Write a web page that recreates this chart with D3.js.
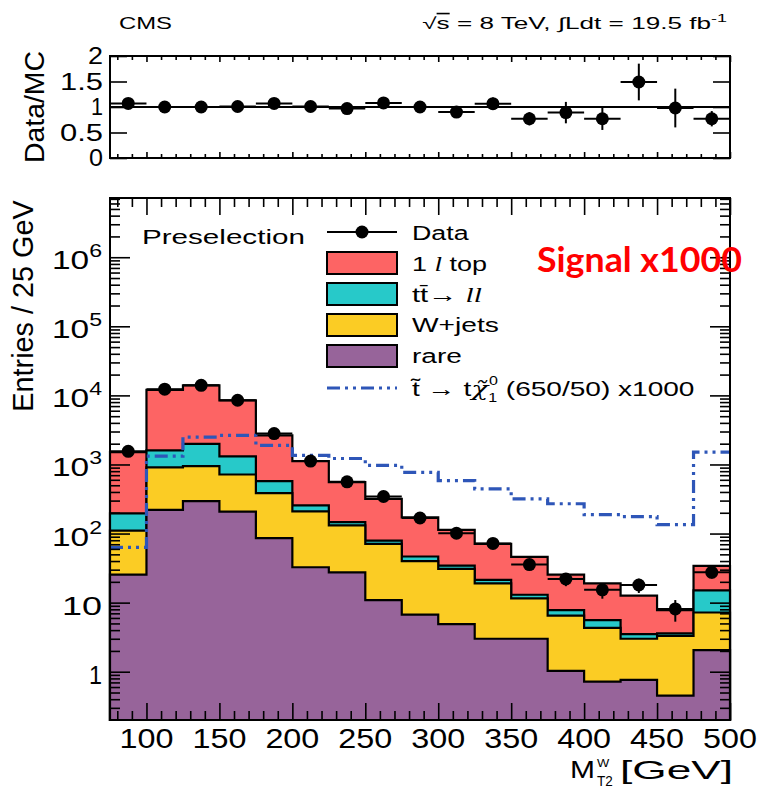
<!DOCTYPE html>
<html lang="en">
<head>
<meta charset="UTF-8">
<title>MT2W preselection</title>
<script src="https://d3js.org/d3.v7.min.js"></script>
<style>
  body { margin: 0; background: #fff; }
  svg { display: block; }
  text { font-family: "Liberation Sans", Arial, sans-serif; fill: #000; }
  .frame { fill: none; stroke: #000; stroke-width: 2px; }
  .axis path { display: none; }
  .axis line { stroke: #000; stroke-width: 1.6px; }
  .hist { stroke: #000; stroke-width: 2.2px; }
</style>
</head>
<body>
<script>
// bin edges of M_T2^W (25 GeV bins)
const edges = [75, 100, 125, 150, 175, 200, 225, 250, 275, 300, 325, 350, 375, 400, 425, 450, 475, 500];

// background components per bin
const rare   = [25.5, 220, 294, 208, 86, 32.5, 27.5, 10.9, 6.7, 4.9, 3.0, 3.0, 1.03, 0.72, 0.76, 0.45, 2.06];
const wjets  = [84.5, 690, 651, 508, 298, 177.5, 103.5, 59.9, 33.3, 25.9, 16, 8.5, 5.47, 3.58, 2.24, 2.85, 5.14];
const ttll   = [86, 690, 1045, 590, 189, 45, 15, 8.2, 6.5, 3.6, 2.3, 1.5, 1.3, 1.3, 0.5, 0.3, 7.8];
const top1l  = [1314, 10400, 11970, 7164, 2057, 862, 409, 239, 125.5, 78.6, 49.7, 33, 17.7, 13.4, 9.1, 4.2, 19];

// data and its errors
const dataVals = [1550, 12300, 14000, 8500, 2800, 1120, 560, 344, 168, 101, 72, 35.6, 22, 15.3, 18, 8.1, 27.5];
const dataErr  = [40, 110, 118, 92, 53, 33, 24, 19, 13, 10, 8.5, 6, 4.7, 3.9, 4.2, 2.8, 5.2];

// signal x1000
const signal = [63, 1320, 2490, 2630, 1885, 1350, 1220, 968, 770, 585, 443, 317, 270, 188, 176, 135, 1510];

// data / MC ratio
const ratio    = [1.07, 1.0, 1.0, 1.01, 1.07, 1.01, 0.97, 1.08, 1.0, 0.9, 1.065, 0.77, 0.89, 0.77, 1.49, 0.98, 0.77];
const ratioErr = [0.03, 0.01, 0.01, 0.01, 0.02, 0.03, 0.04, 0.06, 0.08, 0.1, 0.12, 0.13, 0.21, 0.22, 0.36, 0.38, 0.15];

// tick labels
const xTicks = [100, 150, 200, 250, 300, 350, 400, 450, 500];
const yTicks = [1, 10, 1e2, 1e3, 1e4, 1e5, 1e6];
const yTickExp = [null, null, "2", "3", "4", "5", "6"];
const rTicks = [0, 0.5, 1, 1.5, 2];
const rTickLabels = ["0", "0.5", "1", "1.5", "2"];

const colors = { top1l: "#fd6464", ttll: "#27c9c9", wjets: "#fbcc24", rare: "#97649a", signal: "#2e56b8" };

const W = 761, H = 789;
const main = { left: 110, right: 730, top: 198, bottom: 720 };
const rpad = { left: 110, right: 730, top: 56, bottom: 158 };

const svg = d3.select("body").append("svg").attr("width", W).attr("height", H);

const x = d3.scaleLinear().domain([75, 500]).range([main.left, main.right]);
const y = d3.scaleLog().domain([0.2, 7.2e6]).range([main.bottom, main.top]);
const yr = d3.scaleLinear().domain([0, 2]).range([rpad.bottom, rpad.top]);

// text helper: scales horizontally to a target width
function fitText(parent, tx, ty, width, size, anchor, build, extra) {
  const g = parent.append("g");
  const t = g.append("text").attr("font-size", size).attr("text-anchor", anchor);
  build(t);
  const w = t.node().getBBox().width;
  const sx = width ? width / w : 1;
  g.attr("transform", `translate(${tx},${ty})${extra || ""} scale(${sx},1)`);
  return t;
}

// ---------- stacked histograms ----------
const n = top1l.length;
const cumRare = rare.slice();
const cumW = rare.map((v, i) => v + wjets[i]);
const cumTT = cumW.map((v, i) => v + ttll[i]);
const cumTot = cumTT.map((v, i) => v + top1l[i]);

const stepArea = d3.area()
    .curve(d3.curveStepAfter)
    .x(d => x(d.e))
    .y0(main.bottom)
    .y1(d => y(d.v));

function stepPts(vals) {
  return edges.map((e, i) => ({ e: e, v: vals[Math.min(i, n - 1)] }));
}

const layers = [
  { vals: cumTot, color: colors.top1l },
  { vals: cumTT, color: colors.ttll },
  { vals: cumW, color: colors.wjets },
  { vals: cumRare, color: colors.rare }
];

svg.append("g").selectAll("path")
    .data(layers)
  .enter().append("path")
    .attr("class", "hist")
    .attr("fill", d => d.color)
    .attr("d", d => stepArea(stepPts(d.vals)));

// signal line
const stepLine = d3.line()
    .curve(d3.curveStepAfter)
    .x(d => x(d.e))
    .y(d => y(d.v));

const sigDash = "13,5,3,5,3,5";
svg.append("path")
    .attr("d", stepLine(stepPts(signal)))
    .attr("fill", "none")
    .attr("stroke", colors.signal)
    .attr("stroke-width", 3.2)
    .attr("stroke-dasharray", sigDash);

// data points
const centers = edges.slice(0, n).map(e => e + 12.5);
const dg = svg.append("g");
centers.forEach((c, i) => {
  dg.append("line").attr("x1", x(c - 12.5)).attr("x2", x(c + 12.5))
    .attr("y1", y(dataVals[i])).attr("y2", y(dataVals[i]))
    .attr("stroke", "#000").attr("stroke-width", 2);
  dg.append("line").attr("x1", x(c)).attr("x2", x(c))
    .attr("y1", y(dataVals[i] - dataErr[i])).attr("y2", y(dataVals[i] + dataErr[i]))
    .attr("stroke", "#000").attr("stroke-width", 2);
  dg.append("circle").attr("cx", x(c)).attr("cy", y(dataVals[i])).attr("r", 6.5).attr("fill", "#000");
});

// ---------- main axes ----------
const minorX = d3.range(80, 501, 10).filter(v => v % 50 !== 0);
const minorY = [];
for (let d = -1; d <= 6; d++) for (let m = 2; m <= 9; m++) {
  const v = m * Math.pow(10, d);
  if (v > 0.2 && v < 7.2e6) minorY.push(v);
}

svg.append("g").attr("class", "axis").attr("transform", `translate(0,${main.bottom})`)
    .call(d3.axisBottom(x).tickValues(xTicks).tickSize(-17).tickFormat(""));
svg.append("g").attr("class", "axis").attr("transform", `translate(0,${main.bottom})`)
    .call(d3.axisBottom(x).tickValues(minorX).tickSize(-9).tickFormat(""));
svg.append("g").attr("class", "axis").attr("transform", `translate(0,${main.top})`)
    .call(d3.axisTop(x).tickValues(xTicks).tickSize(-17).tickFormat(""));
svg.append("g").attr("class", "axis").attr("transform", `translate(0,${main.top})`)
    .call(d3.axisTop(x).tickValues(minorX).tickSize(-9).tickFormat(""));
svg.append("g").attr("class", "axis").attr("transform", `translate(${main.left},0)`)
    .call(d3.axisLeft(y).tickValues(yTicks).tickSize(-20).tickFormat(""));
svg.append("g").attr("class", "axis").attr("transform", `translate(${main.left},0)`)
    .call(d3.axisLeft(y).tickValues(minorY).tickSize(-10).tickFormat(""));
svg.append("g").attr("class", "axis").attr("transform", `translate(${main.right},0)`)
    .call(d3.axisRight(y).tickValues(yTicks).tickSize(-20).tickFormat(""));
svg.append("g").attr("class", "axis").attr("transform", `translate(${main.right},0)`)
    .call(d3.axisRight(y).tickValues(minorY).tickSize(-10).tickFormat(""));

svg.append("rect").attr("class", "frame")
    .attr("x", main.left).attr("y", main.top)
    .attr("width", main.right - main.left).attr("height", main.bottom - main.top);

// x tick labels
xTicks.forEach(v => {
  fitText(svg, x(v), 748, 54, 27, "middle", t => t.text(v));
});

// y tick labels
yTicks.forEach((v, i) => {
  const wd = yTickExp[i] === null ? (v === 1 ? 13 : 40) : 50;
  fitText(svg, 102, y(v) + 12, wd, 26, "end", t => {
    if (yTickExp[i] === null) {
      t.text(v);
    } else {
      t.append("tspan").text("10");
      t.append("tspan").attr("dy", -12).attr("font-size", 18).text(yTickExp[i]);
    }
  });
});

// axis titles
fitText(svg, 570, 778, 25, 23, "start", t => t.text("M"));
fitText(svg, 597, 767, 13, 11, "start", t => t.text("W"));
fitText(svg, 597, 786, 16, 14, "start", t => t.text("T2"));
fitText(svg, 733, 779, 113, 25, "end", t => t.text("[GeV]"));
fitText(svg, 33, 306, 212, 29, "middle", t => t.text("Entries / 25 GeV"), " rotate(-90)");

// ---------- ratio panel ----------
svg.append("g").attr("class", "axis").attr("transform", `translate(0,${rpad.bottom})`)
    .call(d3.axisBottom(x).tickValues(xTicks).tickSize(-6).tickFormat(""));
svg.append("g").attr("class", "axis").attr("transform", `translate(0,${rpad.bottom})`)
    .call(d3.axisBottom(x).tickValues(minorX).tickSize(-4).tickFormat(""));
svg.append("g").attr("class", "axis").attr("transform", `translate(0,${rpad.top})`)
    .call(d3.axisTop(x).tickValues(xTicks).tickSize(-6).tickFormat(""));
svg.append("g").attr("class", "axis").attr("transform", `translate(0,${rpad.top})`)
    .call(d3.axisTop(x).tickValues(minorX).tickSize(-4).tickFormat(""));
svg.append("g").attr("class", "axis").attr("transform", `translate(${rpad.left},0)`)
    .call(d3.axisLeft(yr).tickValues(rTicks).tickSize(-17).tickFormat(""));
svg.append("g").attr("class", "axis").attr("transform", `translate(${rpad.right},0)`)
    .call(d3.axisRight(yr).tickValues(rTicks).tickSize(-17).tickFormat(""));

svg.append("line")
    .attr("x1", rpad.left).attr("x2", rpad.right)
    .attr("y1", yr(1)).attr("y2", yr(1))
    .attr("stroke", "#000").attr("stroke-width", 2);

const rg = svg.append("g");
centers.forEach((c, i) => {
  rg.append("line").attr("x1", x(c - 12.5)).attr("x2", x(c + 12.5))
    .attr("y1", yr(ratio[i])).attr("y2", yr(ratio[i]))
    .attr("stroke", "#000").attr("stroke-width", 2);
  rg.append("line").attr("x1", x(c)).attr("x2", x(c))
    .attr("y1", yr(ratio[i] - ratioErr[i])).attr("y2", yr(ratio[i] + ratioErr[i]))
    .attr("stroke", "#000").attr("stroke-width", 2);
  rg.append("circle").attr("cx", x(c)).attr("cy", yr(ratio[i])).attr("r", 6.5).attr("fill", "#000");
});

svg.append("rect").attr("class", "frame")
    .attr("x", rpad.left).attr("y", rpad.top)
    .attr("width", rpad.right - rpad.left).attr("height", rpad.bottom - rpad.top);

rTicks.forEach((v, i) => {
  const lw = { "0": 14, "0.5": 43, "1": 12, "1.5": 43, "2": 15 }[rTickLabels[i]];
  fitText(svg, 103, yr(v) + 8, lw, 23, "end", t => t.text(rTickLabels[i]));
});
fitText(svg, 44, 107, 112, 28, "middle", t => t.text("Data/MC"), " rotate(-90)");

// ---------- header ----------
fitText(svg, 119, 29, 53, 16, "start", t => t.text("CMS"));
fitText(svg, 727, 29, 305, 16, "end", t => {
  t.append("tspan").text("√");
  t.append("tspan").attr("text-decoration", "overline").text("s");
  t.append("tspan").text(" = 8 TeV,  ∫Ldt = 19.5 fb");
  t.append("tspan").attr("dy", -7).attr("font-size", 11).text("-1");
});

// ---------- legend ----------
const lg = svg.append("g");
const lx0 = 327, lx1 = 397, ltx = 412;
lg.append("line").attr("x1", lx0).attr("x2", lx1).attr("y1", 232).attr("y2", 232)
  .attr("stroke", "#000").attr("stroke-width", 2);
lg.append("circle").attr("cx", (lx0 + lx1) / 2).attr("cy", 232).attr("r", 6.5).attr("fill", "#000");
fitText(lg, ltx, 240, 57, 21, "start", t => t.text("Data"));

const boxes = [
  { y: 252, color: colors.top1l },
  { y: 283, color: colors.ttll },
  { y: 314, color: colors.wjets },
  { y: 345, color: colors.rare }
];
boxes.forEach(b => {
  lg.append("rect").attr("x", lx0).attr("y", b.y).attr("width", lx1 - lx0).attr("height", 22)
    .attr("fill", b.color).attr("stroke", "#000").attr("stroke-width", 2);
});
fitText(lg, ltx, 271, 75, 21, "start", t => {
  t.append("tspan").text("1 ");
  t.append("tspan").attr("font-style", "italic").style("font-family", "'Liberation Serif'").text("l");
  t.append("tspan").text(" top");
});
fitText(lg, ltx, 302, 70, 21, "start", t => {
  t.append("tspan").text("tt\u0304\u2192 ");
  t.append("tspan").attr("font-style", "italic").style("font-family", "'Liberation Serif'").text("ll");
});
fitText(lg, ltx, 332, 87, 21, "start", t => t.text("W+jets"));
fitText(lg, ltx, 363, 50, 21, "start", t => t.text("rare"));

lg.append("line").attr("x1", lx0).attr("x2", lx1).attr("y1", 388).attr("y2", 388)
  .attr("stroke", colors.signal).attr("stroke-width", 3.2).attr("stroke-dasharray", sigDash);
fitText(lg, ltx, 396, 285, 21, "start", t => {
  t.append("tspan").text("t\u0303 \u2192 t");
  t.append("tspan").attr("font-style", "italic").style("font-family", "'DejaVu Serif'").text("\u03c7\u0303");
  t.append("tspan").attr("dy", 6).attr("font-size", 12).text("1");
  t.append("tspan").attr("dx", -6).attr("dy", -17).attr("font-size", 12).text("0");
  t.append("tspan").attr("dy", 11).text(" (650/50) x1000");
});

fitText(svg, 142, 244, 163, 21, "start", t => t.text("Preselection"));

// annotation
fitText(svg, 537, 272, 205, 35, "start", t => {
  t.style("font-family", "Lato, 'Open Sans', sans-serif")
   .style("font-weight", "bold")
   .style("fill", "#ff0000")
   .text("Signal x1000");
});
</script>
</body>
</html>
